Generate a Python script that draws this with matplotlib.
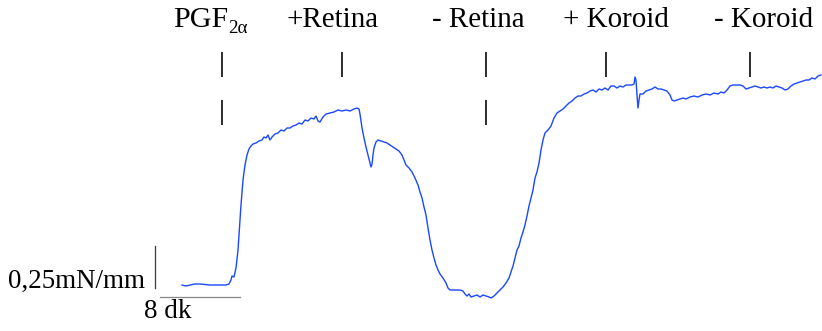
import numpy as np
import matplotlib
matplotlib.use('Agg')
import matplotlib.pyplot as plt

# isometric tension recording, time in minutes, tension in mN/mm
time_min = [0.0, 0.4, 0.8, 1.3, 1.8, 2.3, 2.8, 3.3, 3.8, 4.4, 4.7, 4.9, 5.0, 5.2, 5.4, 5.6, 5.7, 5.8, 5.9, 6.0,
            6.1, 6.3, 6.5, 6.7, 6.9, 7.1, 7.4, 7.7, 8.0, 8.2, 8.4, 8.6, 8.8, 9.0, 9.3, 9.6, 9.9, 10.2, 10.5, 10.8,
            11.1, 11.4, 11.7, 12.0, 12.3, 12.6, 12.9, 13.2, 13.4, 13.6, 13.8, 14.1, 14.4, 14.8, 15.2, 15.6, 16.0,
            16.4, 16.8, 17.2, 17.5, 17.7, 17.8, 18.0, 18.2, 18.4, 18.6, 18.8, 18.9, 19.0, 19.1, 19.2, 19.4, 19.6,
            19.9, 20.2, 20.5, 20.8, 21.1, 21.4, 21.7, 22.0, 22.2, 22.4, 22.7, 23.0, 23.3, 23.6, 23.8, 24.0, 24.2,
            24.4, 24.6, 24.8, 25.0, 25.2, 25.4, 25.6, 25.8, 26.1, 26.4, 26.6, 26.8, 27.3, 27.8, 28.1, 28.3, 28.5,
            28.7, 28.9, 29.2, 29.5, 29.8, 30.1, 30.4, 30.7, 30.9, 31.2, 31.5, 31.8, 32.1, 32.4, 32.7, 32.9, 33.1,
            33.3, 33.5, 33.7, 33.9, 34.1, 34.3, 34.5, 34.7, 34.9, 35.1, 35.3, 35.5, 35.7, 35.9, 36.1, 36.3, 36.6,
            36.9, 37.2, 37.5, 37.8, 38.1, 38.4, 38.7, 39.0, 39.3, 39.6, 39.9, 40.2, 40.5, 40.8, 41.1, 41.4, 41.7,
            42.0, 42.3, 42.6, 42.9, 43.2, 43.5, 43.8, 44.1, 44.4, 44.7, 45.0, 45.2, 45.3, 45.4, 45.5, 45.6, 45.7,
            45.8, 46.1, 46.4, 46.7, 47.0, 47.3, 47.6, 47.9, 48.2, 48.5, 48.8, 49.0, 49.2, 49.5, 49.8, 50.1, 50.4,
            50.8, 51.2, 51.6, 52.0, 52.4, 52.8, 53.2, 53.6, 53.9, 54.2, 54.5, 54.8, 55.1, 55.4, 55.8, 56.1, 56.4,
            56.7, 57.0, 57.3, 57.6, 57.9, 58.2, 58.5, 58.8, 59.1, 59.4, 59.7, 60.0, 60.3, 60.6, 60.9, 61.2, 61.5,
            61.8, 62.1, 62.4, 62.7, 63.0, 63.3, 63.6, 63.9]
tension = [0.000, -0.006, 0.000, 0.006, 0.006, 0.003, 0.000, 0.000, 0.000, 0.000, 0.006, 0.030, 0.054, 0.048,
           0.102, 0.210, 0.300, 0.390, 0.480, 0.558, 0.630, 0.720, 0.780, 0.816, 0.834, 0.846, 0.852, 0.864, 0.870,
           0.888, 0.882, 0.900, 0.870, 0.888, 0.906, 0.912, 0.930, 0.924, 0.942, 0.942, 0.954, 0.960, 0.972, 0.966,
           0.990, 0.984, 1.002, 0.996, 1.014, 0.984, 0.978, 1.008, 1.026, 1.032, 1.038, 1.050, 1.044, 1.050, 1.044,
           1.056, 1.062, 1.056, 1.026, 0.942, 0.882, 0.828, 0.780, 0.732, 0.708, 0.726, 0.780, 0.822, 0.858, 0.870,
           0.864, 0.858, 0.852, 0.840, 0.828, 0.816, 0.804, 0.780, 0.750, 0.720, 0.702, 0.678, 0.642, 0.600, 0.558,
           0.522, 0.468, 0.420, 0.342, 0.270, 0.210, 0.162, 0.120, 0.090, 0.066, 0.042, 0.012, -0.018, -0.030,
           -0.030, -0.030, -0.036, -0.054, -0.066, -0.054, -0.072, -0.066, -0.060, -0.072, -0.060, -0.066, -0.072,
           -0.078, -0.066, -0.048, -0.030, -0.012, 0.012, 0.042, 0.078, 0.114, 0.162, 0.210, 0.234, 0.282, 0.318,
           0.360, 0.414, 0.474, 0.522, 0.570, 0.642, 0.678, 0.732, 0.810, 0.870, 0.912, 0.930, 0.954, 1.002, 1.032,
           1.044, 1.056, 1.074, 1.092, 1.104, 1.122, 1.134, 1.134, 1.146, 1.152, 1.164, 1.170, 1.158, 1.176, 1.170,
           1.182, 1.170, 1.194, 1.194, 1.182, 1.194, 1.188, 1.200, 1.200, 1.200, 1.206, 1.248, 1.230, 1.140, 1.062,
           1.110, 1.146, 1.146, 1.164, 1.170, 1.176, 1.188, 1.176, 1.176, 1.170, 1.164, 1.140, 1.110, 1.104, 1.110,
           1.116, 1.122, 1.116, 1.128, 1.134, 1.128, 1.140, 1.146, 1.140, 1.152, 1.146, 1.158, 1.152, 1.170, 1.194,
           1.200, 1.200, 1.200, 1.194, 1.176, 1.182, 1.188, 1.194, 1.188, 1.182, 1.188, 1.182, 1.188, 1.182, 1.194,
           1.188, 1.182, 1.170, 1.176, 1.194, 1.206, 1.212, 1.218, 1.224, 1.230, 1.230, 1.242, 1.236, 1.254, 1.260]

# additions to the bath
event_time = [4.0, 16.0, 30.4, 42.4, 56.8]
event_label = ['PGF', '+Retina', '- Retina', '+ Koroid', '- Koroid']
event_double = [True, False, True, False, False]

scale_time = 8      # dk
scale_tension = 0.25  # mN/mm

plt.rcParams['font.family'] = ['Liberation Serif', 'DejaVu Serif']

fig = plt.figure(figsize=(822 / 72, 331 / 72), dpi=72)
fig.patch.set_facecolor('white')
ax = fig.add_axes([0, 0, 1, 1])
ax.set_xlim(-18.2, 64.0)
ax.set_ylim(-0.276, 1.71)
ax.axis('off')

ax.plot(time_min, tension, color='#1a49ff', lw=1.4)

# event marks and names
trans = ax.get_xaxis_transform()
label_shift = [0, -0.9, -0.8, 1.0, 1.4]
for i in range(len(event_time)):
    ax.vlines(event_time[i], 0.767, 0.843, transform=trans, color='black', lw=1.6)
    if event_double[i]:
        ax.vlines(event_time[i], 0.622, 0.698, transform=trans, color='black', lw=1.6)
    if i == 0:
        t0 = ax.text(event_time[i] - 4.9, 0.918, event_label[i], transform=trans,
                     ha='left', va='baseline', fontsize=30)
        ax.annotate('2α', xy=(1, 0), xycoords=t0, xytext=(0.5, -4), textcoords='offset points',
                    ha='left', va='bottom', fontsize=19)
    else:
        ax.text(event_time[i] + label_shift[i], 0.918, event_label[i], transform=trans,
                ha='center', va='baseline', fontsize=29)

# scale bars
ax.plot([-2.7, -2.7], [-0.018, -0.018 + scale_tension], color='#404040', lw=1.3)
ax.plot([-2.2, -2.2 + scale_time], [-0.072, -0.072], color='#888888', lw=1.3)
ax.text(-3.7, -0.018, '0,25mN/mm', ha='right', va='baseline', fontsize=27)
ax.text(-1.4, -0.198, '8 dk', ha='center', va='baseline', fontsize=27)

fig.savefig('out.png', dpi=72)
